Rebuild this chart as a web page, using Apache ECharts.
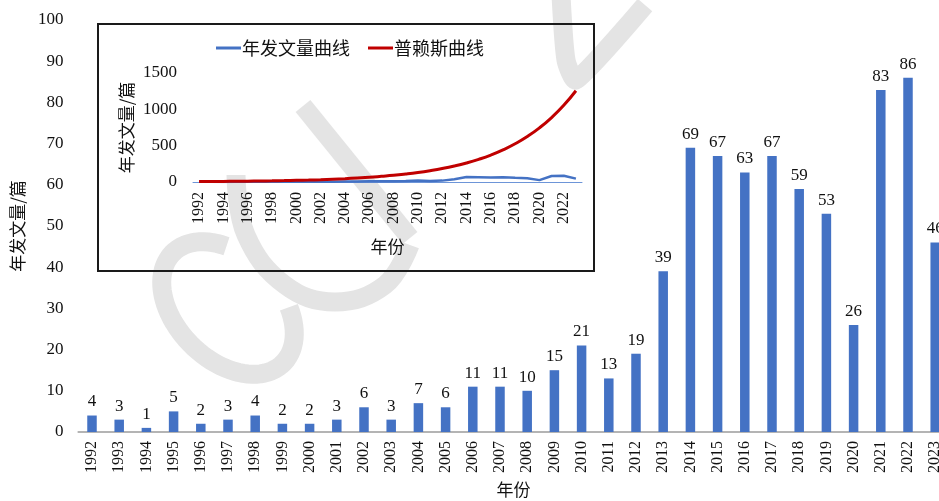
<!DOCTYPE html>
<html><head><meta charset="utf-8">
<script src="https://cdn.jsdelivr.net/npm/echarts@6/dist/echarts.min.js"></script>
<style>html,body{margin:0;padding:0;background:#fff}#c{width:939px;height:501px}</style>
</head><body><div id="c"></div>
<script>
// ---- data ----
const years = ['1992','1993','1994','1995','1996','1997','1998','1999','2000','2001','2002','2003','2004','2005','2006','2007','2008','2009','2010','2011','2012','2013','2014','2015','2016','2017','2018','2019','2020','2021','2022','2023'];
const papers = [4,3,1,5,2,3,4,2,2,3,6,3,7,6,11,11,10,15,21,13,19,39,69,67,63,67,59,53,26,83,86,46];
const priceCurve = [6,7,8,10,11,14,16,19,23,27,32,39,46,55,65,78,92,110,131,156,185,220,262,312,371,442,526,626,745,887,1055,1256];
const mainYTicks = [0,10,20,30,40,50,60,70,80,90,100];
const insetYTicks = [0,500,1000,1500];
const seriesNames = ['年发文量曲线','普赖斯曲线'];
const yAxisTitle = '年发文量/篇';
const xAxisTitle = '年份';

// ---- styles ----
const SERIF = '"Liberation Serif","Times New Roman",serif';
const CJK = '"Noto Sans CJK SC","Noto Sans",sans-serif';
const TXT = '#111';
const WM = '#e4e4e4';

// watermark decoration (letter strokes)
function ellipseArc(cx, cy, a, b, t0, t1) {
  const pts = [];
  const k = Math.SQRT1_2;
  for (let t = t0; t <= t1; t += 4) {
    const r = t * Math.PI / 180;
    const u = b * Math.cos(r), v = a * Math.sin(r);
    pts.push([cx + u * k - v * k, cy - u * k - v * k]);
  }
  return pts;
}
const wmStyle = {stroke: WM, lineWidth: 19, fill: null, lineCap: 'butt', lineJoin: 'round'};

const chart = echarts.init(document.getElementById('c'), null, {renderer: 'canvas'});
chart.setOption({
  animation: false,
  backgroundColor: '#fff',
  graphic: [
    {type: 'polyline', z: 0, silent: true, shape: {points: ellipseArc(228, 308, 78, 52, 35, 330)}, style: wmStyle},
    {type: 'polyline', z: 0, silent: true, shape: {points: [[303,106],[410,238]]}, style: wmStyle},
    {type: 'polyline', z: 0, silent: true, shape: {points: [[236,175],[246,235],[285,285],[335,302],[385,285],[410,245]], smooth: 0.4}, style: wmStyle},
    {type: 'polyline', z: 0, silent: true, shape: {points: [[561,-5],[566,60],[576,80],[645,5]], smooth: 0.2}, style: wmStyle},
    {type: 'rect', z: 100, silent: true, shape: {x: 98, y: 24, width: 496, height: 247},
     style: {fill: null, stroke: '#1a1a1a', lineWidth: 2}}
  ],
  legend: {
    data: seriesNames,
    left: 211, top: 34,
    icon: 'rect', itemWidth: 25, itemHeight: 3, itemGap: 18,
    textStyle: {fontFamily: CJK, fontSize: 18, color: TXT, padding: [0,0,0,-4]}
  },
  grid: [
    {left: 78.4, top: 20, width: 870.4, height: 412, containLabel: false, outerBoundsMode: 'none'},
    {left: 193, top: 73, width: 389, height: 109, containLabel: false, outerBoundsMode: 'none'}
  ],
  xAxis: [
    {type: 'category', gridIndex: 0, data: years,
     axisLine: {lineStyle: {color: '#b4b4b4', width: 2}},
     axisTick: {show: false},
     axisLabel: {rotate: 90, fontFamily: SERIF, fontSize: 16, color: TXT, margin: 9, interval: 0},
     name: xAxisTitle, nameLocation: 'middle', nameGap: 47,
     nameTextStyle: {fontFamily: CJK, fontSize: 17, color: TXT}},
    {type: 'category', gridIndex: 1, data: years,
     axisLine: {lineStyle: {color: '#6d95d8', width: 1}},
     axisTick: {show: false},
     axisLabel: {rotate: 90, fontFamily: SERIF, fontSize: 16, color: TXT, margin: 10, interval: 1},
     name: xAxisTitle, nameLocation: 'middle', nameGap: 56,
     nameTextStyle: {fontFamily: CJK, fontSize: 17, color: TXT}}
  ],
  yAxis: [
    {type: 'value', gridIndex: 0, min: mainYTicks[0], max: mainYTicks[mainYTicks.length-1], interval: mainYTicks[1]-mainYTicks[0],
     axisLine: {show: false}, axisTick: {show: false}, splitLine: {show: false},
     axisLabel: {fontFamily: SERIF, fontSize: 17, color: TXT, margin: 15, formatter: v => String(v)},
     name: yAxisTitle, nameLocation: 'middle', nameGap: 52,
     nameTextStyle: {fontFamily: CJK, fontSize: 17, color: TXT}},
    {type: 'value', gridIndex: 1, min: insetYTicks[0], max: insetYTicks[insetYTicks.length-1], interval: insetYTicks[1]-insetYTicks[0],
     axisLine: {show: false}, axisTick: {show: false}, splitLine: {show: false},
     axisLabel: {fontFamily: SERIF, fontSize: 17, color: TXT, margin: 16, formatter: v => String(v)},
     name: yAxisTitle, nameLocation: 'middle', nameGap: 58,
     nameTextStyle: {fontFamily: CJK, fontSize: 17, color: TXT}}
  ],
  series: [
    {type: 'bar', xAxisIndex: 0, yAxisIndex: 0, data: papers, barWidth: 9.5, z: 5,
     itemStyle: {color: '#4472C4'},
     label: {show: true, position: 'top', distance: 5, fontFamily: SERIF, fontSize: 17, color: TXT}},
    {type: 'line', name: seriesNames[0], xAxisIndex: 1, yAxisIndex: 1, data: papers, z: 5,
     showSymbol: false, symbol: 'none', lineStyle: {color: '#4472C4', width: 2.5}, itemStyle: {color: '#4472C4'}},
    {type: 'line', name: seriesNames[1], xAxisIndex: 1, yAxisIndex: 1, data: priceCurve, z: 6, smooth: true,
     showSymbol: false, symbol: 'none', lineStyle: {color: '#C00000', width: 3}, itemStyle: {color: '#C00000'}}
  ]
});
</script></body></html>
